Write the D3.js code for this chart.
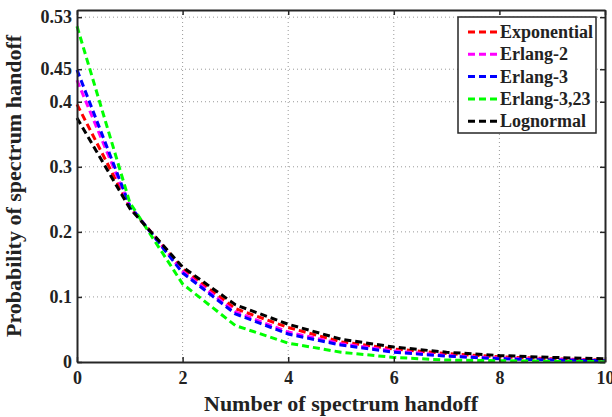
<!DOCTYPE html>
<html>
<head>
<meta charset="utf-8">
<script src="https://cdn.jsdelivr.net/npm/d3@7"></script>
<style>
  body { margin: 0; background: #fff; }
  svg { display: block; font-family: "Liberation Serif", "Times New Roman", serif; font-weight: bold; }
</style>
</head>
<body>
<svg id="chart" width="612" height="417"></svg>
<script>
// Values
const handoffs = [0, 1, 2, 3, 4, 5, 6, 7, 8, 9, 10];
const seriesNames = ["Exponential", "Erlang-2", "Erlang-3", "Erlang-3,23", "Lognormal"];
const seriesColors = ["#ff0000", "#ff00ff", "#0000ff", "#00ff00", "#000000"];
const exponential = [0.396, 0.238, 0.143, 0.082, 0.053, 0.031, 0.020, 0.013, 0.008, 0.005, 0.003];
const erlang2 = [0.433, 0.239, 0.139, 0.077, 0.046, 0.028, 0.017, 0.010, 0.006, 0.004, 0.002];
const erlang3 = [0.449, 0.240, 0.137, 0.074, 0.043, 0.026, 0.015, 0.009, 0.005, 0.003, 0.002];
const erlang323 = [0.516, 0.245, 0.120, 0.056, 0.029, 0.015, 0.007, 0.003, 0.002, 0.001, 0.0005];
const lognormal = [0.375, 0.236, 0.146, 0.088, 0.058, 0.035, 0.023, 0.015, 0.010, 0.007, 0.005];
const xTicks = [0, 2, 4, 6, 8, 10];
const yTicks = [0, 0.1, 0.2, 0.3, 0.4, 0.45, 0.53];

const series = [exponential, erlang2, erlang3, erlang323, lognormal];

const svg = d3.select("#chart");
const plot = { left: 77, right: 605, top: 10, bottom: 362 };

const x = d3.scaleLinear().domain([0, 10]).range([plot.left, plot.right]);
const y = d3.scaleLinear().domain([0, 0.541]).range([plot.bottom, plot.top]);

// Grid
const grid = svg.append("g").attr("stroke", "#999").attr("stroke-width", 1)
  .attr("stroke-dasharray", "1,3");
xTicks.filter(d => d > 0 && d < 10).forEach(d => {
  grid.append("line").attr("x1", x(d)).attr("x2", x(d))
    .attr("y1", plot.top).attr("y2", plot.bottom);
});
yTicks.filter(d => d > 0).forEach(d => {
  grid.append("line").attr("x1", plot.left).attr("x2", plot.right)
    .attr("y1", y(d)).attr("y2", y(d));
});

// Curves
const line = d3.line().x((d, i) => x(handoffs[i])).y(d => y(d));
series.forEach((vals, i) => {
  svg.append("path")
    .datum(vals)
    .attr("fill", "none")
    .attr("stroke", seriesColors[i])
    .attr("stroke-width", 3)
    .attr("stroke-dasharray", "7,4")
    .attr("d", line);
});

// Axes (box with inward ticks on all sides)
const axisColor = "#262626";
const styleLabels = g => g.selectAll("text")
  .attr("font-size", 18).attr("font-family", "Liberation Serif")
  .attr("font-weight", "bold").attr("fill", "#222");

svg.append("g")
  .attr("transform", `translate(0,${plot.bottom})`)
  .call(d3.axisBottom(x).tickValues(xTicks).tickSizeInner(-5).tickSizeOuter(0).tickPadding(9))
  .call(g => g.select(".domain").attr("stroke", axisColor).attr("stroke-width", 2))
  .call(g => g.selectAll(".tick line").attr("stroke", axisColor).attr("stroke-width", 1.5))
  .call(styleLabels);

svg.append("g")
  .attr("transform", `translate(0,${plot.top})`)
  .call(d3.axisTop(x).tickValues(xTicks).tickSizeInner(-5).tickSizeOuter(0).tickFormat(""))
  .call(g => g.select(".domain").attr("stroke", axisColor).attr("stroke-width", 2))
  .call(g => g.selectAll(".tick line").attr("stroke", axisColor).attr("stroke-width", 1.5));

svg.append("g")
  .attr("transform", `translate(${plot.left},0)`)
  .call(d3.axisLeft(y).tickValues(yTicks).tickSizeInner(-5).tickSizeOuter(0).tickPadding(5)
    .tickFormat(d => d === 0 ? "0" : String(d)))
  .call(g => g.select(".domain").attr("stroke", axisColor).attr("stroke-width", 2))
  .call(g => g.selectAll(".tick line").attr("stroke", axisColor).attr("stroke-width", 1.5))
  .call(styleLabels);

svg.append("g")
  .attr("transform", `translate(${plot.right},0)`)
  .call(d3.axisRight(y).tickValues(yTicks).tickSizeInner(-5).tickSizeOuter(0).tickFormat(""))
  .call(g => g.select(".domain").attr("stroke", axisColor).attr("stroke-width", 2))
  .call(g => g.selectAll(".tick line").attr("stroke", axisColor).attr("stroke-width", 1.5));

// Axis titles
svg.append("text")
  .attr("x", (plot.left + plot.right) / 2)
  .attr("y", 411)
  .attr("text-anchor", "middle")
  .attr("font-size", 22)
  .attr("fill", "#222")
  .text("Number of spectrum handoff");

svg.append("text")
  .attr("transform", `translate(21,${(plot.top + plot.bottom) / 2}) rotate(-90)`)
  .attr("text-anchor", "middle")
  .attr("font-size", 22)
  .attr("fill", "#222")
  .text("Probability of spectrum handoff");

// Legend
const legend = svg.append("g").attr("transform", "translate(458,17)");
legend.append("rect")
  .attr("width", 138).attr("height", 116)
  .attr("fill", "#fff").attr("stroke", axisColor).attr("stroke-width", 1.5);
seriesNames.forEach((name, i) => {
  const ry = 15 + i * 22.3;
  legend.append("line")
    .attr("x1", 10).attr("x2", 40).attr("y1", ry).attr("y2", ry)
    .attr("stroke", seriesColors[i]).attr("stroke-width", 3)
    .attr("stroke-dasharray", "7,4");
  legend.append("text")
    .attr("x", 42).attr("y", ry + 6)
    .attr("font-size", 18).attr("fill", "#222")
    .text(name);
});
</script>
</body>
</html>
